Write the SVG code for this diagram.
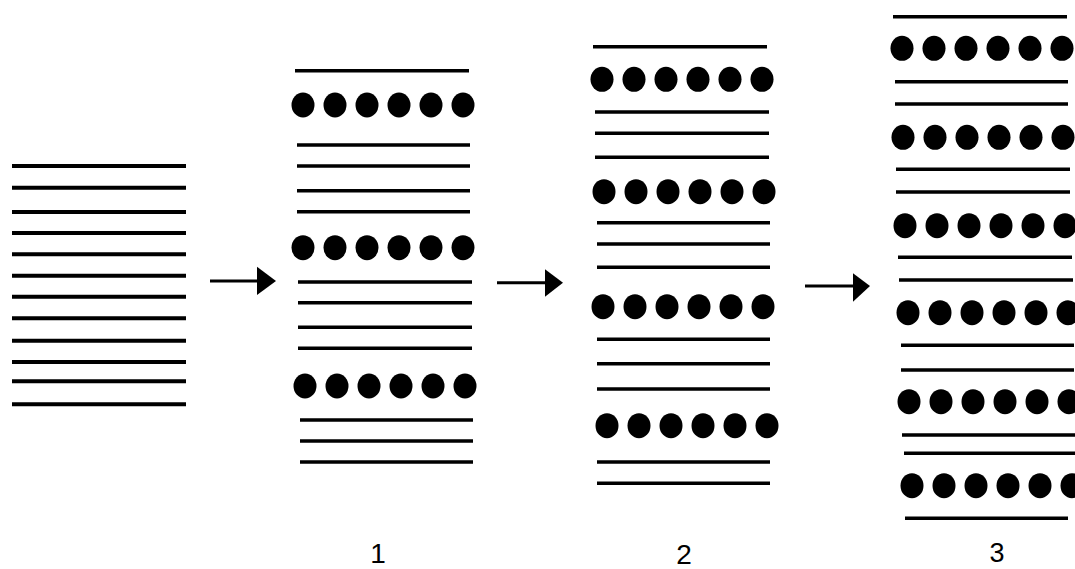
<svg xmlns="http://www.w3.org/2000/svg" xmlns:xlink="http://www.w3.org/1999/xlink" width="1075" height="569" viewBox="0 0 1075 569">
<style>
.ln{stroke:#000;stroke-width:3.6;fill:none}
.ln0{stroke:#000;stroke-width:4;fill:none}
.dot{fill:#000}
.arr{stroke:#000;stroke-width:3;fill:none}
.head{fill:#000}
.lbl{font-family:"Liberation Sans",Arial,sans-serif;font-size:28px;fill:#000}
</style>
<defs>
<g id="dots">
<ellipse class="dot" cx="0" cy="0" rx="11.5" ry="12.5"/>
<ellipse class="dot" cx="32" cy="0" rx="11.5" ry="12.5"/>
<ellipse class="dot" cx="64" cy="0" rx="11.5" ry="12.5"/>
<ellipse class="dot" cx="96" cy="0" rx="11.5" ry="12.5"/>
<ellipse class="dot" cx="128" cy="0" rx="11.5" ry="12.5"/>
<ellipse class="dot" cx="160" cy="0" rx="11.5" ry="12.5"/>
</g>
</defs>
<rect width="1075" height="569" fill="#fff"/>
<g id="stack0">
<path class="ln0" d="M12 166H186M12 187.7H186M12 212H186M12 233H186M12 254.3H186M12 275.7H186M12 296.7H186M12 318.3H186M12 340.7H186M12 362H186M12 381.3H186M12 404.3H186"/>
</g>
<g id="stack1">
<path class="ln" d="M295 70.7H469M297 145H470M297 166H470M297 190.7H470M297 211.7H470M298 282H472M298 302.7H472M298 327.3H472M298 348.3H472M300 420H473M300 441H473M300 462H473"/>
<use xlink:href="#dots" x="303" y="105"/>
<use xlink:href="#dots" x="303" y="247.7"/>
<use xlink:href="#dots" x="305" y="386"/>
<text class="lbl" x="378" y="563" text-anchor="middle">1</text>
</g>
<g id="stack2">
<path class="ln" d="M593 46.7H767M595 112H769M595 133.3H769M595 157.3H769M597 222.7H770M597 244H770M597 267.3H770M597 339.3H770M597 363.7H770M597 389H770M597 462H770M597 483.3H770"/>
<use xlink:href="#dots" x="602" y="79.3"/>
<use xlink:href="#dots" x="604" y="191.7"/>
<use xlink:href="#dots" x="603" y="306.7"/>
<use xlink:href="#dots" x="607" y="425.7"/>
<text class="lbl" x="684" y="564" text-anchor="middle">2</text>
</g>
<g id="stack3">
<path class="ln" d="M893 16.7H1067M895 81.7H1068M895 104H1068M896 169.3H1070M896 192H1070M898 257.3H1072M899 280H1073M901 345.3H1074M901 370H1074M902 435H1075M904 453.3H1075M905 518.3H1068"/>
<use xlink:href="#dots" x="902" y="48.3"/>
<use xlink:href="#dots" x="903" y="137.3"/>
<use xlink:href="#dots" x="905" y="225.7"/>
<use xlink:href="#dots" x="908" y="312.7"/>
<use xlink:href="#dots" x="909" y="401.7"/>
<use xlink:href="#dots" x="912" y="485.7"/>
<text class="lbl" x="997" y="562" text-anchor="middle" style="font-size:27px">3</text>
</g>
<g id="connectors">
<path class="arr" d="M210 281H258"/>
<path class="head" d="M257 266.7L276 281L257 295Z"/>
<path class="arr" d="M497 282.7H546"/>
<path class="head" d="M545 269.3L563 282.7L545 296.7Z"/>
<path class="arr" d="M805 286H854"/>
<path class="head" d="M853 273.3L870 286L853 301.7Z"/>
</g>
</svg>
